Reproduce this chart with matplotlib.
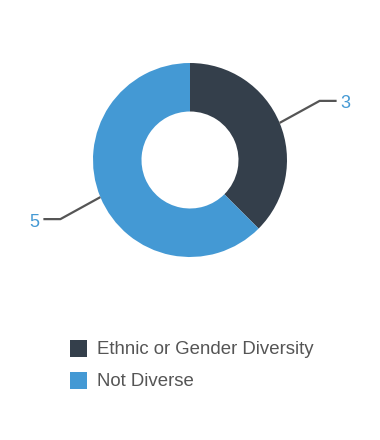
import numpy as np
import matplotlib
matplotlib.use("Agg")
import matplotlib.pyplot as plt
from matplotlib.patches import Rectangle

categories = ["Ethnic or Gender Diversity", "Not Diverse"]
values = [3, 5]
colors = ["#343f4b", "#4499d4"]
label_color = "#4499d4"
line_color = "#555555"
text_color = "#555555"

W, H = 380, 440
fig = plt.figure(figsize=(W / 100, H / 100), dpi=100)
ax = fig.add_axes([0, 0, 1, 1])

cx, cy, r = 190, 280, 97
wedges, _ = ax.pie(values, colors=colors, startangle=90, counterclock=False,
                   center=(cx, cy), radius=r, frame=True,
                   wedgeprops=dict(width=r * 0.5, linewidth=0))
ax.set_xlim(0, W)
ax.set_ylim(0, H)
ax.set_aspect("equal")
ax.axis("off")

# leader lines + value labels
for w, v in zip(wedges, values):
    mid = np.deg2rad((w.theta1 + w.theta2) / 2)
    x0, y0 = cx + r * np.cos(mid), cy + r * np.sin(mid)
    sx = 1 if np.cos(mid) > 0 else -1
    sy = 1 if np.sin(mid) > 0 else -1
    x1, y1 = x0 + sx * 40, y0 + sy * 22
    x2 = x1 + sx * 17
    ax.plot([x0, x1, x2], [y0, y1, y1], color=line_color, lw=1.6,
            solid_capstyle="butt")
    ax.text(x2 + sx * 4, y1 - 3, str(v), color=label_color, fontsize=13,
            family="Liberation Sans", ha="left" if sx > 0 else "right",
            va="center")

# legend
for i, (cat, col) in enumerate(zip(categories, colors)):
    y = 92 - i * 32
    ax.add_patch(Rectangle((70, y - 8.5), 17, 17, color=col, lw=0))
    ax.text(97, y - 1, cat, color=text_color, fontsize=13.4,
            family="Liberation Sans", va="center", ha="left")

fig.savefig("out.png", dpi=100)
